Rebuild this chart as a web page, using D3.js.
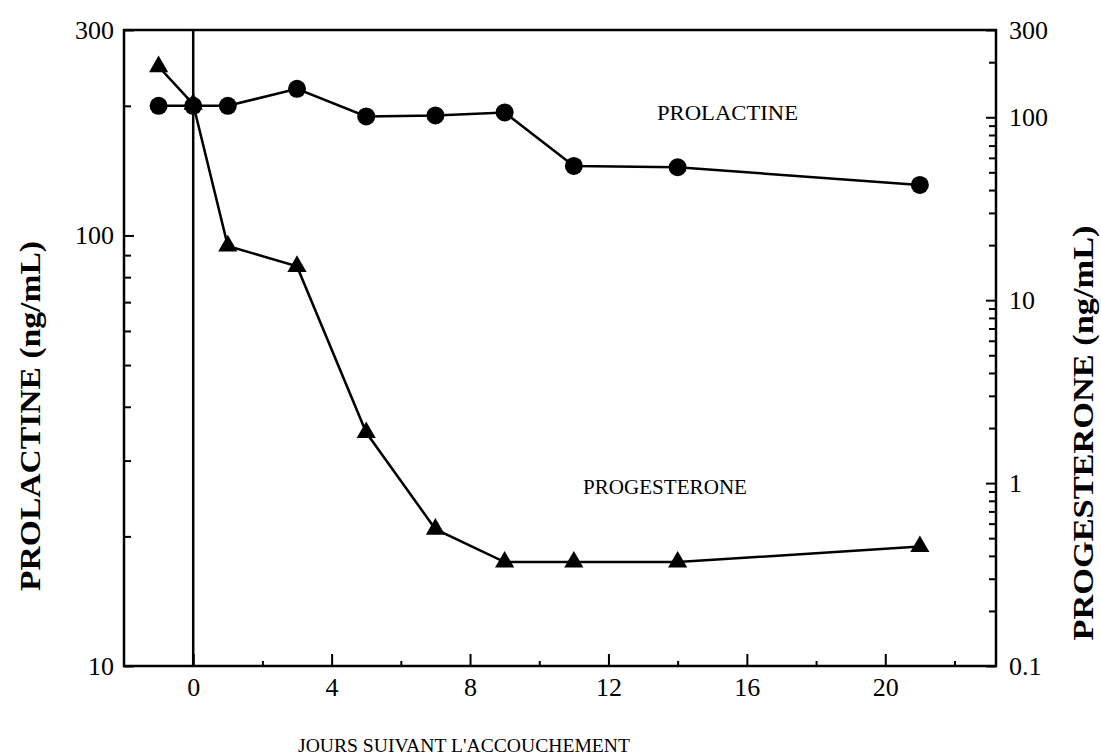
<!DOCTYPE html>
<html>
<head>
<meta charset="utf-8">
<script src="https://cdn.jsdelivr.net/npm/d3@7"></script>
<style>
  body { margin: 0; background: #fff; }
  svg { display: block; }
  text { font-family: "Liberation Serif", "DejaVu Serif", serif; fill: #000; }
</style>
</head>
<body>
<div id="chart"></div>
<script>
// days after delivery
const days = [-1, 0, 1, 3, 5, 7, 9, 11, 14, 21];
// prolactine, ng/mL (left axis)
const prolactine = [200, 200, 200, 219, 189, 190, 193, 145, 144, 131];
// progesterone, ng/mL (right axis)
const progesterone = [189, 118, 19.8, 15.3, 1.89, 0.56, 0.37, 0.37, 0.37, 0.45];

const xTicks = [0, 4, 8, 12, 16, 20];
const xMinor = [2, 6, 10, 14, 18, 22];
const leftTicks = [10, 100, 300];
const leftMinor = [20, 30, 40, 50, 60, 70, 80, 90, 200];
const rightTicks = [0.1, 1, 10, 100, 300];
const rightTickLabels = ['0.1', '1', '10', '100', '300'];
const rightMinor = [0.2, 0.3, 0.4, 0.5, 0.6, 0.7, 0.8, 0.9,
                    2, 3, 4, 5, 6, 7, 8, 9,
                    20, 30, 40, 50, 60, 70, 80, 90, 200];

const W = 1101, H = 756;
const margin = {top: 30, right: 105, bottom: 90, left: 124};
const width = W - margin.left - margin.right;
const height = H - margin.top - margin.bottom;

const svg = d3.select('#chart').append('svg')
    .attr('width', W)
    .attr('height', H);

const g = svg.append('g')
    .attr('transform', `translate(${margin.left},${margin.top})`);

const x = d3.scaleLinear().domain([-2, 23.2]).range([0, width]);
const yL = d3.scaleLog().domain([10, 300]).range([height, 0]);
const yR = d3.scaleLog().domain([0.1, 300]).range([height, 0]);

function styleAxis(sel, size) {
  sel.select('.domain').remove();
  sel.attr('font-family', null).attr('font-size', null);
  sel.selectAll('line').attr('stroke', '#000').attr('stroke-width', 2);
  sel.selectAll('text').style('font-size', size + 'px');
}

// x axis (ticks pointing inward)
g.append('g')
    .attr('transform', `translate(0,${height})`)
    .call(d3.axisBottom(x).tickValues(xTicks).tickSize(-12).tickPadding(12))
    .call(styleAxis, 26);
g.append('g')
    .attr('transform', `translate(0,${height})`)
    .call(d3.axisBottom(x).tickValues(xMinor).tickSize(-5).tickFormat(''))
    .call(styleAxis, 26);

// left axis
g.append('g')
    .call(d3.axisLeft(yL).tickValues(leftTicks).tickSize(-10).tickPadding(10).tickFormat(d3.format('d')))
    .call(styleAxis, 26);
g.append('g')
    .call(d3.axisLeft(yL).tickValues(leftMinor).tickSize(-7).tickFormat(''))
    .call(styleAxis, 26);

// right axis
g.append('g')
    .attr('transform', `translate(${width},0)`)
    .call(d3.axisRight(yR).tickValues(rightTicks).tickSize(-10).tickPadding(13)
      .tickFormat((d, i) => rightTickLabels[i]))
    .call(styleAxis, 26);
g.append('g')
    .attr('transform', `translate(${width},0)`)
    .call(d3.axisRight(yR).tickValues(rightMinor).tickSize(-7).tickFormat(''))
    .call(styleAxis, 26);

// frame
g.append('rect')
    .attr('width', width)
    .attr('height', height)
    .attr('fill', 'none')
    .attr('stroke', '#000')
    .attr('stroke-width', 2.5);

// day 0 marker line
g.append('line')
    .attr('x1', x(0)).attr('x2', x(0))
    .attr('y1', 0).attr('y2', height)
    .attr('stroke', '#000')
    .attr('stroke-width', 2.5);

const prlData = days.map((d, i) => ({day: d, v: prolactine[i]}));
const proData = days.map((d, i) => ({day: d, v: progesterone[i]}));

g.append('path')
    .datum(prlData)
    .attr('fill', 'none')
    .attr('stroke', '#000')
    .attr('stroke-width', 2.5)
    .attr('d', d3.line().x(d => x(d.day)).y(d => yL(d.v)));

g.append('path')
    .datum(proData)
    .attr('fill', 'none')
    .attr('stroke', '#000')
    .attr('stroke-width', 2.5)
    .attr('d', d3.line().x(d => x(d.day)).y(d => yR(d.v)));

g.selectAll('.tri')
    .data(proData)
  .enter().append('path')
    .attr('class', 'tri')
    .attr('transform', d => `translate(${x(d.day)},${yR(d.v)})`)
    .attr('d', d3.symbol(d3.symbolTriangle).size(160))
    .attr('fill', '#000');

g.selectAll('.dot')
    .data(prlData)
  .enter().append('circle')
    .attr('class', 'dot')
    .attr('cx', d => x(d.day))
    .attr('cy', d => yL(d.v))
    .attr('r', 9)
    .attr('fill', '#000');

// series labels
svg.append('text')
    .attr('x', 657).attr('y', 120)
    .attr('font-size', 20)
    .attr('textLength', 141).attr('lengthAdjust', 'spacingAndGlyphs')
    .text('PROLACTINE');

svg.append('text')
    .attr('x', 583).attr('y', 494)
    .attr('font-size', 20)
    .attr('textLength', 164).attr('lengthAdjust', 'spacingAndGlyphs')
    .text('PROGESTERONE');

// axis titles
svg.append('text')
    .attr('transform', 'translate(40,416) rotate(-90)')
    .attr('text-anchor', 'middle')
    .attr('font-size', 30).attr('font-weight', 'bold')
    .attr('textLength', 350).attr('lengthAdjust', 'spacingAndGlyphs')
    .text('PROLACTINE (ng/mL)');

svg.append('text')
    .attr('transform', 'translate(1093,433) rotate(-90)')
    .attr('text-anchor', 'middle')
    .attr('font-size', 30).attr('font-weight', 'bold')
    .attr('textLength', 415).attr('lengthAdjust', 'spacingAndGlyphs')
    .text('PROGESTERONE (ng/mL)');

svg.append('text')
    .attr('x', 464).attr('y', 752)
    .attr('text-anchor', 'middle')
    .attr('font-size', 19)
    .attr('textLength', 332).attr('lengthAdjust', 'spacingAndGlyphs')
    .text("JOURS SUIVANT L'ACCOUCHEMENT");
</script>
</body>
</html>
